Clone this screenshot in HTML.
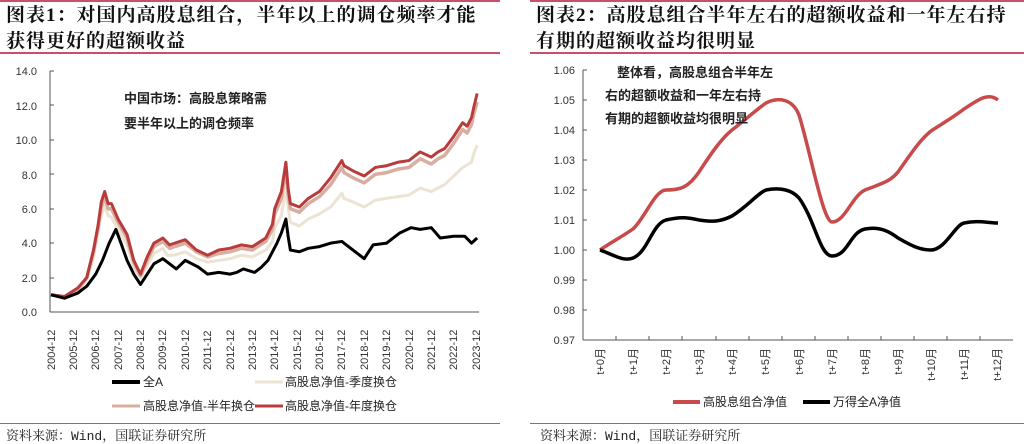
<!DOCTYPE html>
<html><head><meta charset="utf-8"><style>
body{margin:0;width:1024px;height:444px;background:#fff;overflow:hidden;font-family:"Liberation Sans","Noto Sans CJK SC",sans-serif}
.t{position:absolute;font-family:"Liberation Serif","Noto Serif CJK SC",serif;font-weight:bold;font-size:19px;line-height:26px;color:#111;letter-spacing:1px;white-space:nowrap}
.s{position:absolute;font-family:"Liberation Mono","Noto Serif CJK SC",serif;font-size:13px;color:#222}
.ln{position:absolute;height:2px;background:#c8506a}
</style></head><body>
<div class="ln" style="left:0;top:0;width:500px"></div>
<div class="ln" style="left:530px;top:0;width:494px"></div>
<div class="t" style="left:6px;top:3px">图表1：对国内高股息组合，半年以上的调仓频率才能<br>获得更好的超额收益</div>
<div class="t" style="left:536px;top:3px">图表2：高股息组合半年左右的超额收益和一年左右持<br>有期的超额收益均很明显</div>
<div class="ln" style="left:0;top:52px;width:500px"></div>
<div class="ln" style="left:530px;top:52px;width:494px"></div>
<div class="ln" style="left:0;top:423px;width:500px;height:1px"></div>
<div class="ln" style="left:530px;top:423px;width:494px;height:1px"></div>
<div class="s" style="left:6px;top:425px">资料来源：Wind，国联证券研究所</div>
<div class="s" style="left:540px;top:425px">资料来源：Wind，国联证券研究所</div>

<svg width="1024" height="444" style="position:absolute;left:0;top:0" font-family="Liberation Sans,Noto Sans CJK SC,sans-serif">
<g font-size="11" fill="#333" text-anchor="end">
<text x="37" y="75">14.0</text><text x="37" y="110">12.0</text><text x="37" y="144">10.0</text>
<text x="37" y="179">8.0</text><text x="37" y="213">6.0</text><text x="37" y="247">4.0</text>
<text x="37" y="282">2.0</text><text x="37" y="316">0.0</text>
</g>
<g stroke="#555" stroke-width="1">
<line x1="50" y1="71" x2="50" y2="312"/><line x1="50" y1="312" x2="479" y2="312"/>
<line x1="50" y1="71" x2="54" y2="71"/><line x1="50" y1="105" x2="54" y2="105"/><line x1="50" y1="140" x2="54" y2="140"/><line x1="50" y1="174" x2="54" y2="174"/><line x1="50" y1="209" x2="54" y2="209"/><line x1="50" y1="243" x2="54" y2="243"/><line x1="50" y1="278" x2="54" y2="278"/>
</g>
<g font-size="11" fill="#333">
<text transform="translate(55,370) rotate(-90)">2004-12</text><text transform="translate(77,370) rotate(-90)">2005-12</text><text transform="translate(99,370) rotate(-90)">2006-12</text><text transform="translate(122,370) rotate(-90)">2007-12</text><text transform="translate(144,370) rotate(-90)">2008-12</text><text transform="translate(166,370) rotate(-90)">2009-12</text><text transform="translate(189,370) rotate(-90)">2010-12</text><text transform="translate(211,370) rotate(-90)">2011-12</text><text transform="translate(234,370) rotate(-90)">2012-12</text><text transform="translate(256,370) rotate(-90)">2013-12</text><text transform="translate(278,370) rotate(-90)">2014-12</text><text transform="translate(301,370) rotate(-90)">2015-12</text><text transform="translate(323,370) rotate(-90)">2016-12</text><text transform="translate(345,370) rotate(-90)">2017-12</text><text transform="translate(368,370) rotate(-90)">2018-12</text><text transform="translate(390,370) rotate(-90)">2019-12</text><text transform="translate(413,370) rotate(-90)">2020-12</text><text transform="translate(435,370) rotate(-90)">2021-12</text><text transform="translate(457,370) rotate(-90)">2022-12</text><text transform="translate(480,370) rotate(-90)">2023-12</text>
</g>
<g transform="translate(51,312) scale(22.37,-17.21)" fill="none" stroke-linejoin="round">
<polyline vector-effect="non-scaling-stroke" stroke="#ebe4d2" stroke-width="3" points="0,1 0.6,0.85 1.2,1.2 1.6,1.9 1.9,3.2 2.1,4.6 2.25,5.6 2.4,6.2 2.55,5.6 2.7,5.5 3,4.8 3.4,3.9 3.7,2.6 4,2 4.3,2.7 4.6,3.4 5,3.7 5.2,3.3 5.5,3.3 6,3.5 6.5,3.1 7,2.9 7.5,3 8,3.1 8.5,3.3 9,3.2 9.6,3.6 9.9,4.1 10,4.9 10.3,5.6 10.5,7.2 10.6,6.1 10.7,5.2 11.1,5 11.5,5.4 12,5.7 12.5,6.1 13,6.9 13.1,6.6 13.5,6.4 14,6.1 14.5,6.5 15,6.6 15.5,6.7 16,6.8 16.5,7.2 17,7 17.3,7.2 17.6,7.4 18,7.9 18.4,8.4 18.8,8.7 18.9,9.2 19.05,9.7"/>
<polyline vector-effect="non-scaling-stroke" stroke="#d9ada0" stroke-width="3.5" points="0,1 0.6,0.88 1.2,1.3 1.6,2 1.9,3.5 2.1,4.9 2.25,6.1 2.4,6.7 2.55,6 2.7,6 3,5.2 3.4,4.3 3.7,2.9 4,2.1 4.3,3 4.6,3.8 5,4.1 5.3,3.7 6,4 6.5,3.5 7,3.2 7.5,3.4 8,3.5 8.5,3.7 9,3.6 9.6,4.1 9.9,4.8 10,5.7 10.3,6.6 10.5,8.3 10.6,6.9 10.7,6 11.1,5.8 11.5,6.3 12,6.7 12.5,7.4 13,8.4 13.1,8.1 13.5,7.8 14,7.5 14.5,8 15,8.1 15.5,8.3 16,8.4 16.5,8.9 17,8.6 17.3,8.9 17.6,9.1 18,9.8 18.4,10.6 18.6,10.4 18.8,10.9 18.9,11.5 19.05,12.2"/>
<polyline vector-effect="non-scaling-stroke" stroke="#b83c3c" stroke-width="3" points="0,1 0.6,0.9 1.2,1.4 1.6,2 1.9,3.6 2.1,5 2.25,6.4 2.4,7 2.55,6.3 2.7,6.3 3,5.4 3.4,4.5 3.7,3 4,2.2 4.3,3.2 4.6,4 5,4.3 5.3,3.9 6,4.2 6.5,3.6 7,3.3 7.5,3.6 8,3.7 8.5,3.9 9,3.8 9.6,4.3 9.9,5.1 10,6 10.3,7 10.5,8.7 10.6,7.2 10.7,6.3 11.1,6.1 11.5,6.6 12,7 12.5,7.8 13,8.8 13.1,8.5 13.5,8.2 14,7.9 14.5,8.4 15,8.5 15.5,8.7 16,8.8 16.5,9.3 17,9 17.3,9.3 17.6,9.5 18,10.2 18.4,11 18.6,10.8 18.8,11.3 18.9,11.9 19.05,12.7"/>
<polyline vector-effect="non-scaling-stroke" stroke="#000" stroke-width="3" points="0,1 0.6,0.8 1.2,1.1 1.6,1.5 2,2.2 2.3,3 2.6,4 2.9,4.8 3.1,4.1 3.4,3 3.7,2.2 4,1.6 4.3,2.2 4.6,2.8 5,3.1 5.3,2.8 5.6,2.5 6,3 6.3,2.8 6.6,2.6 7,2.2 7.5,2.3 8,2.2 8.3,2.3 8.6,2.5 9.1,2.3 9.4,2.6 9.7,3 10.1,4 10.3,4.6 10.5,5.4 10.6,4.4 10.7,3.6 11.1,3.5 11.5,3.7 12,3.8 12.5,4 13,4.1 13.5,3.6 14,3.1 14.4,3.9 15,4 15.3,4.3 15.6,4.6 16.1,4.9 16.5,4.8 17,4.9 17.4,4.3 18,4.4 18.5,4.4 18.8,4.0 19.05,4.3"/>
</g>
<text x="124" y="103" font-size="13" font-weight="bold" fill="#222">中国市场：高股息策略需</text>
<text x="124" y="128" font-size="13" font-weight="bold" fill="#222">要半年以上的调仓频率</text>
<g font-size="12" fill="#222">
<line x1="112" y1="382" x2="140" y2="382" stroke="#000" stroke-width="4"/><text x="143" y="386">全A</text>
<line x1="255" y1="382" x2="283" y2="382" stroke="#ebe4d2" stroke-width="3"/><text x="285" y="386">高股息净值-季度换仓</text>
<line x1="112" y1="406" x2="140" y2="406" stroke="#d9ada0" stroke-width="3"/><text x="143" y="410">高股息净值-半年换仓</text>
<line x1="255" y1="406" x2="283" y2="406" stroke="#b83c3c" stroke-width="3"/><text x="285" y="410">高股息净值-年度换仓</text>
</g>

<g font-size="11" fill="#333" text-anchor="end">
<text x="575" y="74">1.06</text><text x="575" y="104">1.05</text><text x="575" y="134">1.04</text><text x="575" y="164">1.03</text><text x="575" y="194">1.02</text><text x="575" y="224">1.01</text><text x="575" y="254">1.00</text><text x="575" y="284">0.99</text><text x="575" y="314">0.98</text><text x="575" y="344">0.97</text>
</g>
<g stroke="#555" stroke-width="1">
<line x1="583" y1="70" x2="583" y2="340"/><line x1="583" y1="340" x2="1013" y2="340"/>
<line x1="583" y1="70" x2="587" y2="70"/><line x1="583" y1="100" x2="587" y2="100"/><line x1="583" y1="130" x2="587" y2="130"/><line x1="583" y1="160" x2="587" y2="160"/><line x1="583" y1="190" x2="587" y2="190"/><line x1="583" y1="220" x2="587" y2="220"/><line x1="583" y1="250" x2="587" y2="250"/><line x1="583" y1="280" x2="587" y2="280"/><line x1="583" y1="310" x2="587" y2="310"/>
<line x1="616" y1="340" x2="616" y2="336"/><line x1="649" y1="340" x2="649" y2="336"/><line x1="682" y1="340" x2="682" y2="336"/><line x1="716" y1="340" x2="716" y2="336"/><line x1="749" y1="340" x2="749" y2="336"/><line x1="782" y1="340" x2="782" y2="336"/><line x1="815" y1="340" x2="815" y2="336"/><line x1="848" y1="340" x2="848" y2="336"/><line x1="881" y1="340" x2="881" y2="336"/><line x1="914" y1="340" x2="914" y2="336"/><line x1="947" y1="340" x2="947" y2="336"/><line x1="980" y1="340" x2="980" y2="336"/>
</g>
<g font-size="11" fill="#333" text-anchor="end">
<text transform="translate(604,348) rotate(-90)">t+0月</text><text transform="translate(637,348) rotate(-90)">t+1月</text><text transform="translate(670,348) rotate(-90)">t+2月</text><text transform="translate(703,348) rotate(-90)">t+3月</text><text transform="translate(736,348) rotate(-90)">t+4月</text><text transform="translate(769,348) rotate(-90)">t+5月</text><text transform="translate(803,348) rotate(-90)">t+6月</text><text transform="translate(836,348) rotate(-90)">t+7月</text><text transform="translate(869,348) rotate(-90)">t+8月</text><text transform="translate(902,348) rotate(-90)">t+9月</text><text transform="translate(935,348) rotate(-90)">t+10月</text><text transform="translate(968,348) rotate(-90)">t+11月</text><text transform="translate(1001,348) rotate(-90)">t+12月</text>
</g>
<path d="M600,250 C610,243 623,236 633,229 C645,218 655,190 666,190 C680,190 688,188 699,172 C712,152 722,138 732,130 C745,120 756,110 766,103 C780,96 793,100 799,115 C810,150 823,222 832,222 C845,222 852,196 865,190 C880,184 890,182 898,172 C912,152 920,140 931,131 C945,122 955,116 964,109 C978,100 988,92 998,100" fill="none" stroke="#c94a4a" stroke-width="3.5"/>
<path d="M600,250 C612,254 623,262 633,258 C648,252 652,224 666,220 C682,216 690,218 699,220 C712,222 720,222 732,216 C748,206 758,193 766,190 C780,187 792,190 799,198 C815,220 820,256 832,256 C848,256 850,232 865,229 C880,226 890,232 898,238 C912,246 920,250 931,250 C945,250 955,225 964,223 C978,220 988,223 998,223" fill="none" stroke="#000" stroke-width="3.5"/>
<text x="617" y="77" font-size="13" font-weight="bold" fill="#222">整体看，高股息组合半年左</text>
<text x="605" y="100" font-size="13" font-weight="bold" fill="#222">右的超额收益和一年左右持</text>
<text x="605" y="123" font-size="13" font-weight="bold" fill="#222">有期的超额收益均很明显</text>
<g font-size="12" fill="#222">
<line x1="673" y1="402" x2="700" y2="402" stroke="#c94a4a" stroke-width="4"/><text x="703" y="406">高股息组合净值</text>
<line x1="803" y1="402" x2="830" y2="402" stroke="#000" stroke-width="4"/><text x="833" y="406">万得全A净值</text>
</g>
</svg>
</body></html>
